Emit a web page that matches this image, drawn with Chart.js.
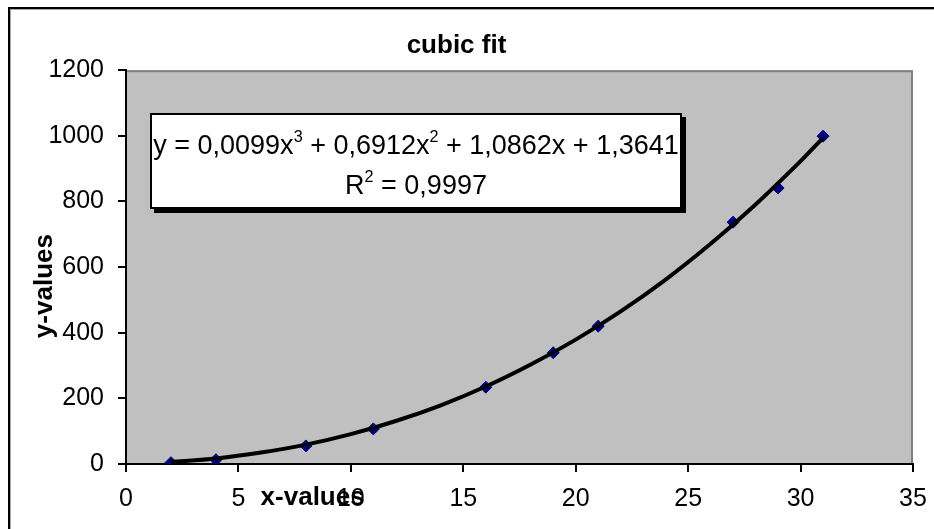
<!DOCTYPE html>
<html>
<head>
<meta charset="utf-8">
<script src="https://cdn.jsdelivr.net/npm/chart.js@4"></script>
<style>
html,body{margin:0;padding:0;background:#fff;}
#wrap{position:relative;width:934px;height:529px;overflow:hidden;background:#fff;}
#frame{position:absolute;left:8px;top:7px;width:960px;height:560px;border-left:2px solid #000;border-top:2px solid #000;}
#frame2{position:absolute;left:10px;top:9px;width:960px;height:560px;border-left:1px solid #a8a8a8;border-top:1px solid #a8a8a8;}
canvas{position:absolute;left:0;top:0;}
#eq{position:absolute;left:150px;top:113px;width:532px;height:96px;box-sizing:border-box;background:#fff;border:2px solid #000;box-shadow:4px 4px 0 #000;font-family:"Liberation Sans",Arial,sans-serif;font-size:27px;color:#000;text-align:center;line-height:40px;padding-top:10px;white-space:nowrap;}
#eq sup{font-size:60%;line-height:0;position:relative;top:-0.15em;}
</style>
</head>
<body>
<div id="wrap">
  <div id="frame"></div>
  <div id="frame2"></div>
  <canvas id="c" width="934" height="529"></canvas>
  <div id="eq">y = 0,0099x<sup>3</sup> + 0,6912x<sup>2</sup> + 1,0862x + 1,3641<br>R<sup>2</sup> = 0,9997</div>
</div>
<script>
// ---- data ----
const xValues = [2, 4, 8, 11, 16, 19, 21, 27, 29, 31];
const yValues = [4, 13, 55, 107, 234, 339, 420, 737, 841, 999];
// trendline
const trendX = [2, 4, 6, 8, 10, 12, 14, 16, 18, 20, 22, 24, 26, 28, 30, 31];
const trendY = [6, 17, 35, 59, 91, 131, 179, 236, 303, 379, 465, 562, 671, 791, 923, 994];
const chartTitle = 'cubic fit';
const xTitle = 'x-values';
const yTitle = 'y-values';
const xMin = 0, xMax = 35, xStep = 5;
const yMin = 0, yMax = 1200, yStep = 200;

const FONT = '"Liberation Sans", Arial, sans-serif';
Chart.defaults.font.family = FONT;

const pointData = xValues.map((x, i) => ({x: x, y: yValues[i]}));
const trendData = trendX.map((x, i) => ({x: x, y: trendY[i]}));

const plotDecor = {
  id: 'plotDecor',
  beforeDraw(chart) {
    const {ctx, chartArea: a} = chart;
    ctx.save();
    ctx.fillStyle = '#c0c0c0';
    ctx.fillRect(a.left, a.top, a.right - a.left, a.bottom - a.top);
    ctx.strokeStyle = '#808080';
    ctx.lineWidth = 2;
    ctx.beginPath();
    ctx.moveTo(a.left, a.top + 1);
    ctx.lineTo(a.right - 1, a.top + 1);
    ctx.lineTo(a.right - 1, a.bottom);
    ctx.stroke();
    ctx.restore();
  },
  afterDraw(chart) {
    const {ctx, chartArea: a} = chart;
    const xs = chart.scales.x;
    ctx.save();
    ctx.fillStyle = '#000';
    ctx.font = 'bold 26px ' + FONT;
    ctx.textAlign = 'center';
    ctx.textBaseline = 'middle';
    ctx.fillText(xTitle, xs.getPixelForValue(8.3), xs.top + 34);
    ctx.translate(45, (a.top + a.bottom) / 2 + 19);
    ctx.rotate(-Math.PI / 2);
    ctx.fillText(yTitle, 0, 0);
    ctx.restore();
  }
};

new Chart(document.getElementById('c'), {
  type: 'scatter',
  data: {
    datasets: [
      {
        type: 'line',
        data: trendData,
        borderColor: '#000',
        borderWidth: 4,
        pointRadius: 0,
        fill: false,
        tension: 0.3,
        order: 0
      },
      {
        data: pointData,
        pointStyle: 'rectRot',
        pointRadius: 6,
        backgroundColor: '#000080',
        borderColor: '#000080',
        borderWidth: 1,
        showLine: false,
        order: 1
      }
    ]
  },
  plugins: [plotDecor],
  options: {
    responsive: false,
    devicePixelRatio: 1,
    animation: false,
    layout: {padding: {left: 0, right: 21, top: 0, bottom: 0}},
    plugins: {
      legend: {display: false},
      tooltip: {enabled: false},
      title: {
        display: true,
        text: chartTitle,
        color: '#000',
        font: {size: 26, weight: 'bold'},
        padding: {top: 30, bottom: 9}
      }
    },
    scales: {
      x: {
        type: 'linear',
        min: xMin, max: xMax,
        ticks: {stepSize: xStep, color: '#000', font: {size: 25}, padding: 12, maxRotation: 0, autoSkip: false,
                callback: v => String(v)},
        grid: {drawOnChartArea: false, drawTicks: true, tickLength: 8, color: '#000', lineWidth: 2},
        border: {color: '#000', width: 2},
        afterFit(s) { s.height = 65; s.paddingLeft = 0; s.paddingRight = 0; }
      },
      y: {
        min: yMin, max: yMax,
        ticks: {stepSize: yStep, color: '#000', font: {size: 25}, padding: 14,
                callback: v => String(v)},
        grid: {drawOnChartArea: false, drawTicks: true, tickLength: 8, color: '#000', lineWidth: 2},
        border: {color: '#000', width: 2},
        afterFit(s) { s.width = 126; }
      }
    }
  }
});
</script>
</body>
</html>
